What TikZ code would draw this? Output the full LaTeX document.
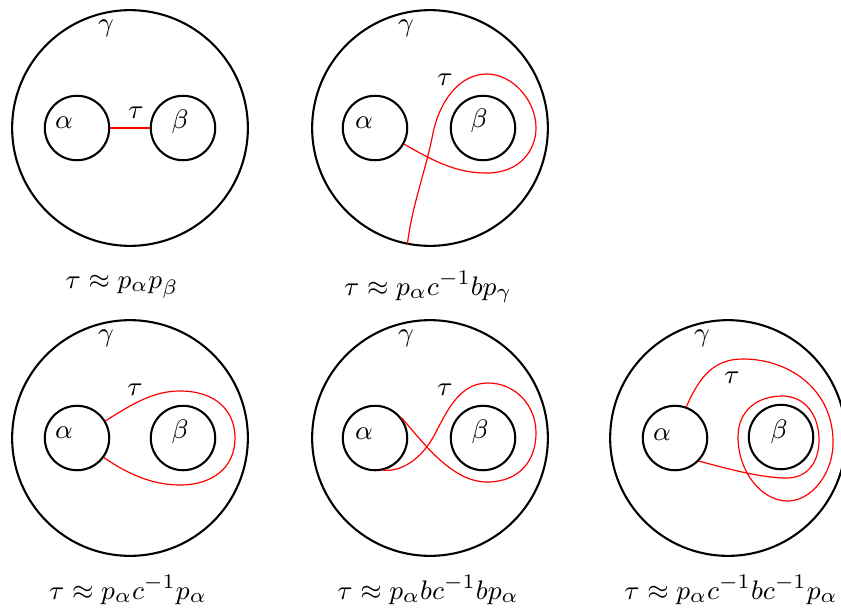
\documentclass[tikz,border=0pt]{standalone}
\usetikzlibrary{positioning}

\begin{document}
\begin{tikzpicture}[x=0.0118cm, y=-0.0118cm,
  every node/.style={font=\fontsize{9.4pt}{11pt}\selectfont},
  outer/.style={draw, circle, line width=0.7pt, inner sep=0pt, minimum size=2.78cm},
  hole/.style={draw, circle, line width=0.7pt, inner sep=0pt, minimum size=0.76cm},
  tauline/.style={red}]
\useasboundingbox (0,0) rectangle (841,607);

% top row
\node (g1) [outer] at (130,128) {};
\node (a1) [hole] at (77,128) {};
\node (b1) [hole] at (183,128) {};
\node (lg1) at (106,28) {$\gamma$};
\node (la1) at (64,123) {$\alpha$};
\node (lb1) at (180,122) {$\beta$};
\node (lt1) at (136,113) {$\tau$};
\draw[tauline] (a1) -- (b1);
\node (cap1) at (122,287) {$\tau\approx p_\alpha p_\beta$};

\node (g2) [outer] at (430,128) {};
\node (a2) [hole] at (375,128) {};
\node (b2) [hole] at (483,128) {};
\node (lg2) at (406,28) {$\gamma$};
\node (la2) at (364,123) {$\alpha$};
\node (lb2) at (479,121) {$\beta$};
\node (lt2) at (445,80) {$\tau$};
\draw[tauline] (a2.-29) .. controls (440,165) and (460,173) .. (487,173)
  .. controls (520,173) and (536,150) .. (536,128)
  .. controls (536,100) and (512,74) .. (487,74)
  .. controls (460,74) and (440,100) .. (433,133)
  .. controls (426,170) and (412,205) .. (g2.-101);
\node (cap2) at (428,287) {$\tau\approx p_\alpha c^{-1}bp_\gamma$};

% bottom row
\node (g3) [outer] at (130,438) {};
\node (a3) [hole] at (77,438) {};
\node (b3) [hole] at (183,438) {};
\node (lg3) at (106,338) {$\gamma$};
\node (la3) at (64,433) {$\alpha$};
\node (lb3) at (180,432) {$\beta$};
\node (lt3) at (135,390) {$\tau$};
\draw[tauline] (a3.31) .. controls (135,402) and (155,391) .. (180,391)
  .. controls (215,391) and (235,410) .. (235,438)
  .. controls (235,468) and (212,485) .. (180,485)
  .. controls (150,485) and (125,472) .. (a3.-36);
\node (cap3) at (128,590) {$\tau\approx p_\alpha c^{-1}p_\alpha$};

\node (g4) [outer] at (430,438) {};
\node (a4) [hole] at (375,438) {};
\node (b4) [hole] at (483,438) {};
\node (lg4) at (406,338) {$\gamma$};
\node (la4) at (364,434) {$\alpha$};
\node (lb4) at (480,432) {$\beta$};
\node (lt4) at (445,390) {$\tau$};
\draw[tauline] (a4.38) .. controls (420,438) and (450,482) .. (487,482)
  .. controls (520,482) and (536,460) .. (536,433)
  .. controls (536,405) and (515,383) .. (488,383)
  .. controls (462,383) and (450,405) .. (437,430)
  .. controls (425,455) and (405,472) .. (a4.-76);
\node (cap4) at (428,590) {$\tau\approx p_\alpha bc^{-1}bp_\alpha$};

\node (g5) [outer] at (728,438) {};
\node (a5) [hole] at (675,438) {};
\node (b5) [hole] at (781,437) {};
\node (lg5) at (702,338) {$\gamma$};
\node (la5) at (662,435) {$\alpha$};
\node (lb5) at (779,432) {$\beta$};
\node (lt5) at (732,378) {$\tau$};
\draw[tauline] (a5.70) .. controls (700,375) and (715,359) .. (743,359)
  .. controls (790,359) and (832,390) .. (833,440)
  .. controls (834,475) and (810,501) .. (788,501)
  .. controls (760,501) and (738,470) .. (738,437)
  .. controls (738,410) and (758,396) .. (782,396)
  .. controls (805,396) and (819,415) .. (819,440)
  .. controls (819,465) and (805,478) .. (787,478)
  .. controls (760,478) and (725,468) .. (a5.-44);
\node (cap5) at (731,590) {$\tau\approx p_\alpha c^{-1}bc^{-1}p_\alpha$};
\end{tikzpicture}
\end{document}
